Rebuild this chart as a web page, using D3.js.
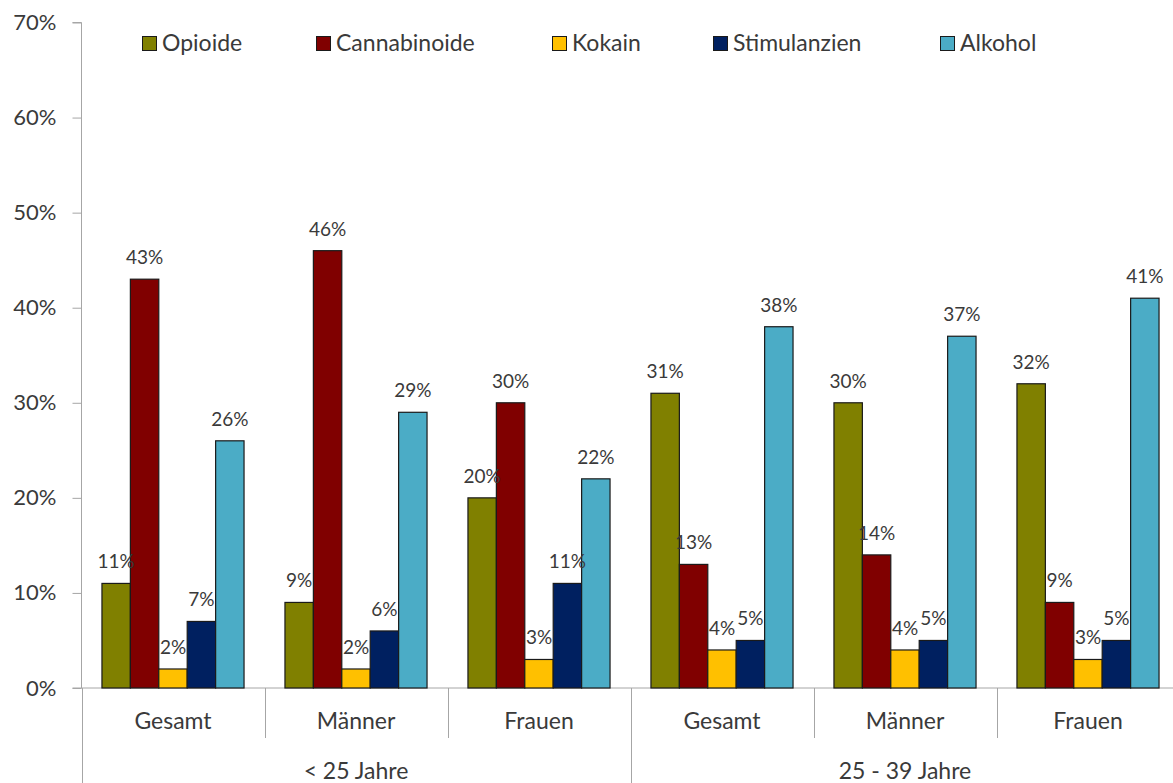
<!DOCTYPE html>
<html><head><meta charset="utf-8">
<script src="https://cdn.jsdelivr.net/npm/d3@7"></script>
<style>
html,body{margin:0;padding:0;background:#fff;}
svg{display:block;font-family:Lato,"Open Sans",sans-serif;}
</style></head>
<body>
<svg id="chart" width="1173" height="783"></svg>
<script>
const categories = ["Gesamt","Männer","Frauen","Gesamt","Männer","Frauen"];
const ageGroups = ["< 25 Jahre","25 - 39 Jahre"];
const series = ["Opioide","Cannabinoide","Kokain","Stimulanzien","Alkohol"];
const colors = ["#808000","#800000","#FFC000","#002060","#4BACC6"];
const opioide      = [11, 9, 20, 31, 30, 32];
const cannabinoide = [43, 46, 30, 13, 14, 9];
const kokain       = [2, 2, 3, 4, 4, 3];
const stimulanzien = [7, 6, 11, 5, 5, 5];
const alkohol      = [26, 29, 22, 38, 37, 41];
const yTicks = [0,10,20,30,40,50,60,70];

const values = [opioide, cannabinoide, kokain, stimulanzien, alkohol];
const svg = d3.select("#chart");
const plotLeft = 81.5, plotRight = 1179.5, plotTop = 22.5, plotBottom = 688;
const textColor = "#3a3a3a", axisColor = "#a6a6a6";

const groupIdx = d3.range(categories.length);
const x0 = d3.scaleBand().domain(groupIdx).range([plotLeft, plotRight]).padding(0);
const x1 = d3.scaleBand().domain(series).range([0, x0.bandwidth()]).paddingInner(0).paddingOuter(0.72);
const y = d3.scaleLinear().domain([0, 70]).range([plotBottom, plotTop]);

// y axis
const yAxis = d3.axisLeft(y).tickValues(yTicks).tickFormat(d => d + "%").tickSize(9).tickPadding(16);
const ya = svg.append("g").attr("transform", `translate(${plotLeft},0)`).call(yAxis);
ya.select(".domain").attr("stroke", axisColor).attr("d", `M-9,${y(70)}H0V${plotBottom}`);
ya.selectAll(".tick line").attr("stroke", axisColor);
ya.selectAll(".tick text").attr("fill", textColor).style("font-size","22px").style("font-family","Lato");

// x axis baseline
svg.append("line").attr("x1", plotLeft - 9).attr("x2", 1173).attr("y1", plotBottom).attr("y2", plotBottom)
  .attr("stroke", axisColor).attr("stroke-width", 1);

// separators
groupIdx.forEach(i => {
  const xx = Math.round(x0(i)) + 0.5;
  const outer = i % 3 === 0;
  svg.append("line").attr("x1", xx).attr("x2", xx).attr("y1", plotBottom).attr("y2", outer ? 783 : 738)
    .attr("stroke", axisColor).attr("stroke-width", 1);
});

// category labels
svg.append("g").selectAll("text").data(groupIdx).join("text")
  .attr("x", i => x0(i) + x0.bandwidth()/2)
  .attr("y", 729)
  .attr("text-anchor","middle")
  .attr("fill", textColor)
  .style("font-size","23px")
  .text(i => categories[i]);

// age group labels
svg.append("g").selectAll("text").data(ageGroups).join("text")
  .attr("x", (d,k) => (x0(k*3) + x0(k*3+2) + x0.bandwidth())/2)
  .attr("y", 779)
  .attr("text-anchor","middle")
  .attr("fill", textColor)
  .style("font-size","23px")
  .text(d => d);

// bars
const data = [];
groupIdx.forEach(i => series.forEach((s, j) => data.push({i, s, j, v: values[j][i]})));
svg.append("g").selectAll("rect").data(data).join("rect")
  .attr("x", d => x0(d.i) + x1(d.s))
  .attr("y", d => y(d.v))
  .attr("width", x1.bandwidth())
  .attr("height", d => plotBottom - y(d.v))
  .attr("fill", d => colors[d.j])
  .attr("stroke", "#1a1a1a")
  .attr("stroke-width", 1.2);

// value labels
svg.append("g").selectAll("text").data(data).join("text")
  .attr("x", d => x0(d.i) + x1(d.s) + x1.bandwidth()/2)
  .attr("y", d => y(d.v) - 15)
  .attr("text-anchor","middle")
  .attr("fill", textColor)
  .style("font-size","19px")
  .text(d => d.v + "%");

// legend
const legendX = [142, 316, 552, 713, 940];
const lg = svg.append("g").selectAll("g").data(series).join("g")
  .attr("transform", (d,j) => `translate(${legendX[j]},36)`);
lg.append("rect").attr("x",0.5).attr("y",0.5).attr("width",14).attr("height",14)
  .attr("fill",(d,j)=>colors[j]).attr("stroke","#1a1a1a").attr("stroke-width",1);
lg.append("text").attr("x",20).attr("y",15).attr("fill",textColor)
  .style("font-size","23px").text(d => d);
</script>
</body></html>
